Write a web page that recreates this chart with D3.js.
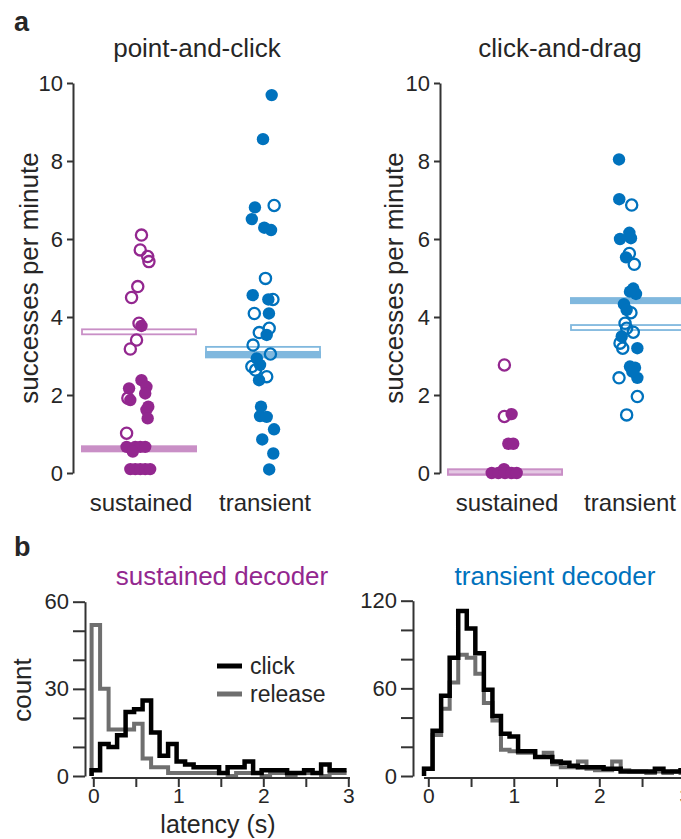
<!DOCTYPE html>
<html><head><meta charset="utf-8">
<script src="https://cdn.jsdelivr.net/npm/d3@7/dist/d3.min.js"></script>
<style>
body{margin:0;background:#fff}
svg{display:block}
text{font-family:"Liberation Sans",Arial,Helvetica,sans-serif;fill:#262626}
</style>
</head><body>
<svg id="c" width="681" height="839"></svg>
<script>
// ---------------- DATA ----------------
const categories = ["sustained", "transient"];
const panelTitles = ["point-and-click", "click-and-drag"];
const yTicksA = [0, 2, 4, 6, 8, 10];

// point-and-click, sustained decoder
const pcSusOpen = [6.10, 5.72, 5.55, 5.42, 4.78, 4.50, 3.84, 3.41, 3.18, 1.92, 1.02];
const pcSusOpenJit = [0.02, 0.01, 0.07, 0.08, -0.01, -0.06, 0.0, -0.02, -0.07, -0.09, -0.10];
const pcSusFilled = [3.77, 2.38, 2.17, 2.21, 2.04, 1.87, 1.70, 1.62, 1.40, 0.67, 0.67, 0.67, 0.67, 0.55, 0.10, 0.10, 0.10, 0.10, 0.10];
const pcSusFilledJit = [0.02, 0.02, -0.08, 0.06, 0.05, -0.07, 0.075, 0.06, 0.07, -0.10, -0.03, 0.01, 0.05, -0.05, -0.07, -0.03, 0.01, 0.05, 0.09];
// point-and-click, transient decoder
const pcTraFilled = [9.69, 8.56, 6.81, 6.51, 6.29, 6.23, 4.56, 4.45, 4.09, 3.54, 2.94, 2.77, 2.38, 1.70, 1.46, 1.44, 1.12, 0.86, 0.50, 0.09];
const pcTraFilledJit = [0.07, 0.0, -0.065, -0.09, 0.01, 0.065, -0.083, 0.043, 0.048, 0.03, -0.05, -0.024, -0.032, -0.016, -0.024, 0.03, 0.089, -0.006, 0.083, 0.05];
const pcTraOpen = [6.86, 4.99, 4.45, 4.09, 3.71, 3.60, 3.28, 3.05, 2.73, 2.64, 2.47];
const pcTraOpenJit = [0.09, 0.02, 0.08, -0.07, 0.05, -0.03, -0.08, 0.06, -0.09, -0.06, 0.03];
// click-and-drag, sustained decoder
const cdSusOpen = [2.77, 1.45];
const cdSusOpenJit = [-0.005, -0.005];
const cdSusFilled = [1.51, 0.75, 0.75, 0.10, 0, 0, 0, 0, 0];
const cdSusFilledJit = [0.054, 0.027, 0.067, -0.008, -0.108, -0.054, 0, 0.054, 0.095];
// click-and-drag, transient decoder
const cdTraFilled = [8.04, 7.02, 6.16, 6.00, 6.02, 5.53, 4.73, 4.59, 4.65, 4.33, 4.18, 3.50, 3.20, 2.73, 2.70, 2.44, 2.60];
const cdTraFilledJit = [-0.073, -0.071, 0.011, -0.065, 0.024, -0.016, 0.043, 0.065, 0.016, -0.033, -0.011, -0.051, 0.076, 0.016, 0.057, 0.076, 0.035];
const cdTraOpen = [6.87, 5.63, 5.35, 4.11, 3.84, 3.71, 3.61, 3.33, 3.20, 2.44, 1.96, 1.49];
const cdTraOpenJit = [0.03, 0.011, 0.051, 0.024, -0.024, -0.011, 0.043, -0.065, -0.043, -0.073, 0.076, -0.011];

// mean bars: [sustained, transient]
const pcOpenMean = [3.62, 3.17];
const pcFilledMean = [0.62, 3.03];
const cdOpenMean = [0.03, 3.73];
const cdFilledMean = [0.02, 4.42];

// histograms (bin width 0.1 s)
const binWidth = 0.1;
const susBinStart = -0.02;
const traBinStart = -0.05;
const susClick = [2, 11, 10, 14, 22, 23, 26, 15, 7, 11, 5, 4, 3, 3, 3, 1, 3, 3, 5, 1, 2, 2, 2, 1, 1, 2, 1, 4, 2, 2];
const susRelease = [52, 30, 16, 16, 16, 18, 6, 3, 3, 1, 1, 1, 1, 1, 1, 1, 0, 1, 1, 1, 0, 1, 1, 0, 1, 1, 1, 0, 1, 1];
const traClick = [5, 31, 55, 81, 113, 101, 84, 59, 41, 29, 27, 17, 17, 13, 13, 10, 9, 7, 6, 6, 6, 5, 5, 3, 3, 3, 3, 5, 3, 3, 4];
const traRelease = [5, 28, 46, 64, 83, 81, 70, 50, 38, 18, 17, 16, 16, 13, 16, 8, 6, 6, 10, 5, 4, 4, 10, 4, 3, 3, 2, 3, 2, 3, 2];
const susYTicks = [0, 10, 20, 30, 40, 50, 60];
const traYTicks = [0, 20, 40, 60, 80, 100, 120];
const latTicks = [0, 0.5, 1, 1.5, 2, 2.5, 3];
const legendLabels = ["click", "release"];

// ---------------- STYLE ----------------
const PURPLE = "#93278f", BLUE = "#0072bd";
const PURPLE_L = "#c98fc6", BLUE_L = "#80b8de";
const GREY = "#6f6f6f", AX = "#333";
const colorOf = {sustained: PURPLE, transient: BLUE};
const lightOf = {sustained: PURPLE_L, transient: BLUE_L};

const svg = d3.select("#c");

function styleAxis(g, fs) {
  g.selectAll("path.domain").attr("stroke", AX).attr("stroke-width", 2);
  g.selectAll(".tick line").attr("stroke", AX).attr("stroke-width", 2);
  g.selectAll(".tick text").attr("font-size", fs).attr("fill", "#262626")
    .attr("font-family", '"Liberation Sans",Arial,sans-serif');
  g.attr("font-family", null).attr("font-size", null);
}

// ---------------- PANEL a ----------------
const yA = d3.scaleLinear().domain([0, 10]).range([473, 83]);
const xA = [
  d3.scalePoint().domain(categories).range([139, 263]),
  d3.scalePoint().domain(categories).range([505, 628])
];
const axisXA = [73, 440];

const panels = [
  {open: [[pcSusOpen, pcSusOpenJit], [pcTraOpen, pcTraOpenJit]],
   filled: [[pcSusFilled, pcSusFilledJit], [pcTraFilled, pcTraFilledJit]],
   openMean: pcOpenMean, filledMean: pcFilledMean},
  {open: [[cdSusOpen, cdSusOpenJit], [cdTraOpen, cdTraOpenJit]],
   filled: [[cdSusFilled, cdSusFilledJit], [cdTraFilled, cdTraFilledJit]],
   openMean: cdOpenMean, filledMean: cdFilledMean}
];

panels.forEach((p, pi) => {
  const x = xA[pi];
  const g = svg.append("g");
  const step = x.step();
  const barW = 116;
  categories.forEach((c, ci) => {
    g.append("rect")
      .attr("x", x(c) - barW / 2).attr("width", barW)
      .attr("y", yA(p.filledMean[ci]) - 3.5).attr("height", 7)
      .attr("fill", lightOf[c]);
    g.append("rect")
      .attr("x", x(c) - barW / 2 + 1).attr("width", barW - 2)
      .attr("y", yA(p.openMean[ci]) - 2.5).attr("height", 5)
      .attr("fill", "#fff").attr("fill-opacity", 0.5)
      .attr("stroke", lightOf[c]).attr("stroke-width", 1.8);
  });
  categories.forEach((c, ci) => {
    const [fv, fj] = p.filled[ci];
    g.selectAll(null).data(fv.map((v, i) => ({v, j: fj[i]}))).enter()
      .append("circle")
      .attr("cx", d => x(c) + d.j * step).attr("cy", d => yA(d.v))
      .attr("r", 6.2).attr("fill", colorOf[c]);
    const [ov, oj] = p.open[ci];
    g.selectAll(null).data(ov.map((v, i) => ({v, j: oj[i]}))).enter()
      .append("circle")
      .attr("cx", d => x(c) + d.j * step).attr("cy", d => yA(d.v))
      .attr("r", 5.6).attr("fill", "none")
      .attr("stroke", colorOf[c]).attr("stroke-width", 2.3);
  });
  const ax = g.append("g").attr("transform", `translate(${axisXA[pi]},0)`)
    .call(d3.axisLeft(yA).tickValues(yTicksA).tickSize(6).tickSizeOuter(0).tickPadding(4));
  styleAxis(ax, 22);
  categories.forEach(c => {
    g.append("text").attr("x", x(c) + 2).attr("y", 511)
      .attr("text-anchor", "middle").attr("font-size", 24).text(c);
  });
  g.append("text").attr("x", pi === 0 ? 197 : 560).attr("y", 57)
    .attr("text-anchor", "middle").attr("font-size", 26).text(panelTitles[pi]);
  const lx = pi === 0 ? 38 : 403;
  g.append("text").attr("transform", `translate(${lx},${yA(5)}) rotate(-90)`)
    .attr("text-anchor", "middle").attr("font-size", 26).text("successes per minute");
});

svg.append("text").attr("x", 14).attr("y", 31).attr("font-size", 27)
  .attr("font-weight", "bold").attr("fill", "#111").text("a");
svg.append("text").attr("x", 14).attr("y", 556).attr("font-size", 27)
  .attr("font-weight", "bold").attr("fill", "#111").text("b");

// ---------------- PANEL b ----------------
const hists = [
  {click: susClick, release: susRelease, start: susBinStart, yMax: 60, yTicks: susYTicks,
   yRange: [776, 601.7], xRange: [93.3, 348.3], axisX: 85, xAxisExt: [-0.02, 3.02],
   title: "sustained decoder", titleX: 222, titleColor: PURPLE, labels: [0, 30, 60]},
  {click: traClick, release: traRelease, start: traBinStart, yMax: 120, yTicks: traYTicks,
   yRange: [776, 600.7], xRange: [428.3, 684.8], axisX: 413, xAxisExt: [-0.05, 3.1],
   title: "transient decoder", titleX: 555, titleColor: BLUE, labels: [0, 60, 120]}
];

hists.forEach((h, hi) => {
  const g = svg.append("g");
  const y = d3.scaleLinear().domain([0, h.yMax]).range(h.yRange);
  const x = d3.scaleLinear().domain([0, 3]).range(h.xRange);
  const line = d3.line().x(d => x(d[0])).y(d => y(d[1])).curve(d3.curveStepAfter);
  function pts(counts) {
    const a = [[h.start, 0]];
    counts.forEach((c, i) => a.push([h.start + i * binWidth, c]));
    a.push([h.start + counts.length * binWidth, counts[counts.length - 1]]);
    return a;
  }
  g.append("path").attr("d", line(pts(h.release))).attr("fill", "none")
    .attr("stroke", GREY).attr("stroke-width", 4).attr("stroke-linejoin", "miter");
  g.append("path").attr("d", line(pts(h.click))).attr("fill", "none")
    .attr("stroke", "#000").attr("stroke-width", 4.5).attr("stroke-linejoin", "miter");

  const ay = g.append("g").attr("transform", `translate(${h.axisX},0)`)
    .call(d3.axisLeft(y).tickValues(h.yTicks).tickSize(12).tickSizeOuter(0).tickPadding(4)
      .tickFormat(d => h.labels.includes(d) ? d : ""));
  styleAxis(ay, 22);
  const axg = g.append("g").attr("transform", "translate(0,778)")
    .call(d3.axisBottom(x).tickValues(latTicks).tickSize(9).tickSizeOuter(0).tickPadding(1)
      .tickFormat(d => Number.isInteger(d) ? d : ""));
  axg.select("path.domain").attr("d", `M${x(h.xAxisExt[0])},0H${x(h.xAxisExt[1])}`);
  styleAxis(axg, 21);

  g.append("text").attr("x", h.titleX).attr("y", 585).attr("text-anchor", "middle")
    .attr("font-size", 26).attr("fill", h.titleColor).style("fill", h.titleColor).text(h.title);
});

svg.append("text").attr("transform", `translate(31,690) rotate(-90)`)
  .attr("text-anchor", "middle").attr("font-size", 26).text("count");
svg.append("text").attr("x", 218).attr("y", 833).attr("text-anchor", "middle")
  .attr("font-size", 25).text("latency (s)");

const legColors = ["#000", GREY];
legendLabels.forEach((l, i) => {
  const ly = 666 + i * 28;
  svg.append("line").attr("x1", 217).attr("x2", 242).attr("y1", ly).attr("y2", ly)
    .attr("stroke", legColors[i]).attr("stroke-width", 5);
  svg.append("text").attr("x", 250).attr("y", ly).attr("dy", "0.35em")
    .attr("font-size", 23).text(l);
});
</script>
</body></html>
